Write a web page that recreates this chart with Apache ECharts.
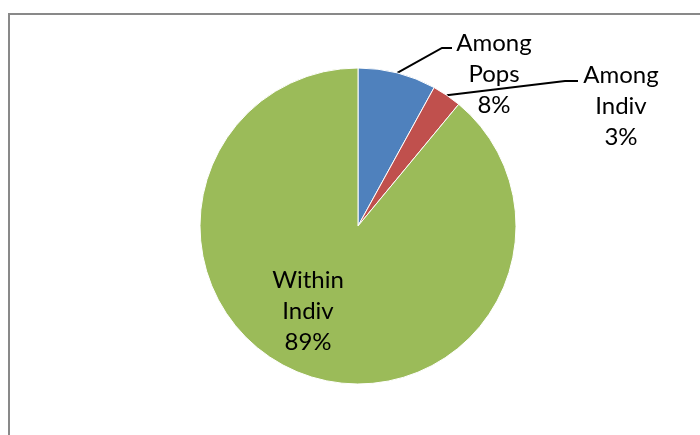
<!DOCTYPE html>
<html>
<head>
<meta charset="utf-8">
<title>Variance components</title>
<script src="https://cdn.jsdelivr.net/npm/echarts@6/dist/echarts.min.js"></script>
<style>
  html, body { margin: 0; padding: 0; background: #fff; }
  #chart { width: 700px; height: 435px; }
</style>
</head>
<body>
<div id="chart"></div>
<script>
// Share of molecular variance by source (percent)
const sources = ['Among\nPops', 'Among\nIndiv', 'Within\nIndiv'];
const percents = [8, 3, 89];
const sliceColors = ['#4F81BD', '#C0504D', '#9BBB59'];

// Label block centres and leader elbows (pixels)
const labelCenters = [[494, 74], [621, 106], [308, 311]];
const leaderEnds = [[-42, -26], [-43, -25], null];
const leaderRuns = [10, 13, 0];

const chart = echarts.init(document.getElementById('chart'), null, { renderer: 'canvas' });

const data = sources.map((name, i) => ({
  name: name,
  value: percents[i],
  itemStyle: { color: sliceColors[i] },
  label: i === 2 ? { position: 'inside' } : { position: 'outside' },
  labelLine: { show: i !== 2 }
}));

chart.setOption({
  animation: false,
  backgroundColor: '#fff',
  graphic: [{
    type: 'rect',
    shape: { x: 9, y: 14, width: 720, height: 460 },
    style: { fill: 'none', stroke: '#898989', lineWidth: 2 },
    silent: true
  }],
  series: [{
    type: 'pie',
    center: [358, 226],
    radius: 158,
    startAngle: 90,
    clockwise: true,
    avoidLabelOverlap: false,
    data: data,
    itemStyle: { borderColor: '#fff', borderWidth: 1 },
    label: {
      formatter: p => p.name + '\n' + p.value + '%',
      fontFamily: 'Lato, "Open Sans", sans-serif',
      fontSize: 24,
      lineHeight: 31,
      color: '#000',
      align: 'center'
    },
    labelLine: {
      show: true,
      length: 10,
      length2: 10,
      lineStyle: { color: '#000', width: 2 }
    },
    labelLayout: function (params) {
      const i = params.dataIndex;
      const c = labelCenters[i];
      const out = { x: c[0], y: c[1], align: 'center', verticalAlign: 'middle' };
      if (leaderEnds[i] && params.labelLinePoints) {
        const anchor = params.labelLinePoints[0];
        const end = [c[0] + leaderEnds[i][0], c[1] + leaderEnds[i][1]];
        const bend = [end[0] - leaderRuns[i], end[1]];
        out.labelLinePoints = [anchor, bend, end];
      }
      return out;
    }
  }]
});
</script>
</body>
</html>
